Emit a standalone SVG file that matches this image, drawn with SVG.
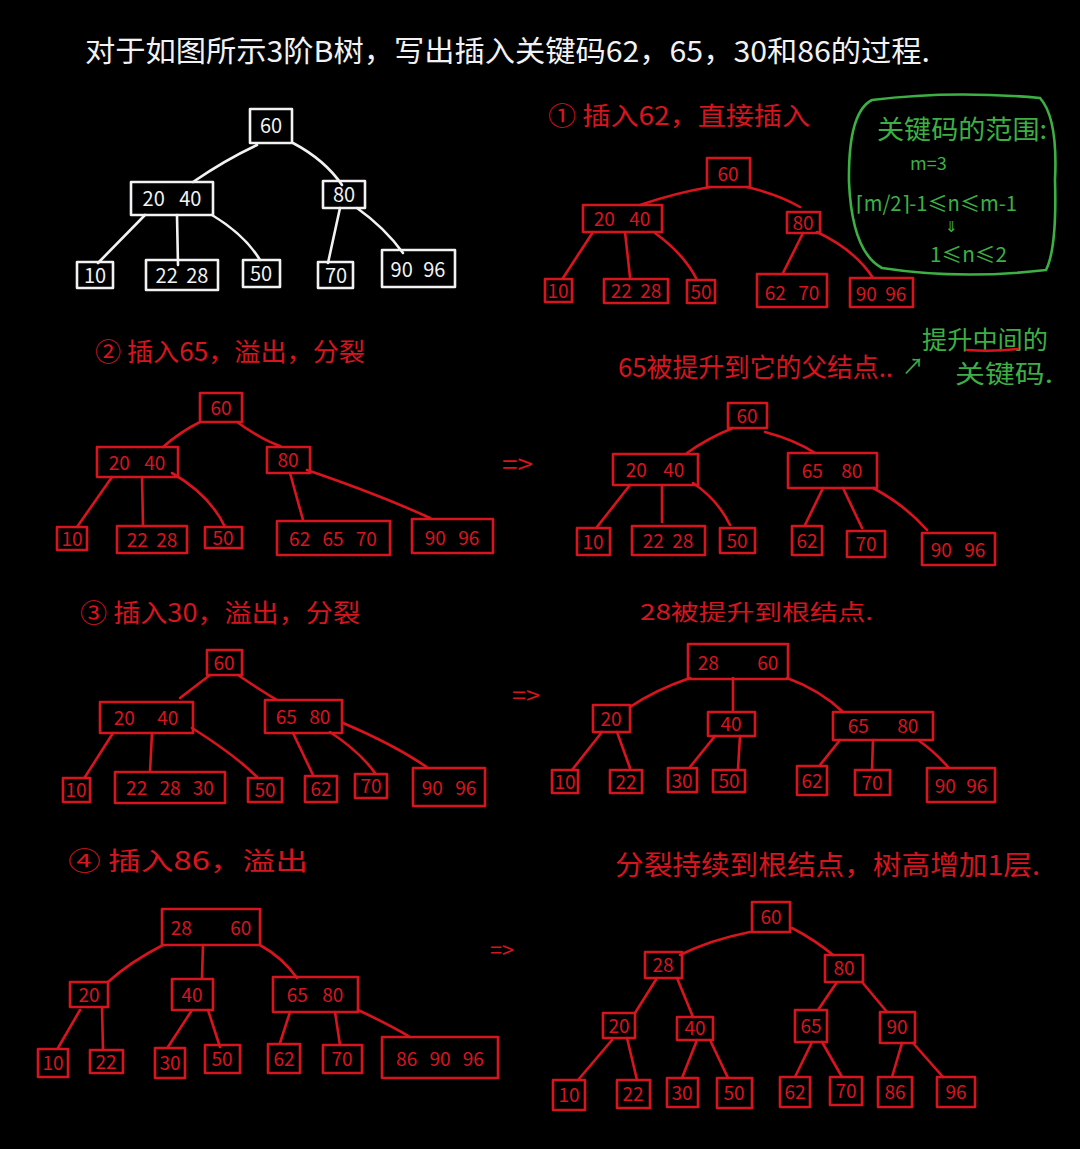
<svg xmlns="http://www.w3.org/2000/svg" width="1080" height="1149" viewBox="0 0 1080 1149">
  <style>
    text { font-family: "Noto Sans CJK SC", "Liberation Sans", sans-serif; }
    .bw rect { fill: none; stroke: #f2f2f2; stroke-width: 2.6; stroke-linejoin: round; }
    .br rect { fill: none; stroke: #d8141f; stroke-width: 2.6; stroke-linejoin: round; }
    .bw text { fill: #f2f2f2; font-size: 20px; text-anchor: middle; }
    .br text { fill: #d8141f; font-size: 19px; text-anchor: middle; }
    .ew path { fill: none; stroke: #f2f2f2; stroke-width: 2.6; stroke-linecap: round; }
    .er path { fill: none; stroke: #d8141f; stroke-width: 2.6; stroke-linecap: round; }
    .note-w { fill: #f2f2f2; }
    .note-r { fill: #d8141f; }
    .note-g { fill: #3cb043; }
  </style>
  <rect width="1080" height="1149" fill="#000"/>

  <!-- title -->
  <text class="note-w" x="85" y="62" font-size="29" textLength="845" lengthAdjust="spacingAndGlyphs">对于如图所示3阶B树，写出插入关键码62，65，30和86的过程.</text>

  <!-- ================= initial tree (white) ================= -->
  <g class="ew" id="edges-initial">
    <path d="M257 145 Q225 160 193 182"/>
    <path d="M293 143 Q325 160 342 185"/>
    <path d="M145 215 L98 263"/>
    <path d="M177 215 L178 265"/>
    <path d="M212 215 Q245 235 260 260"/>
    <path d="M340 208 L328 263"/>
    <path d="M357 208 Q385 228 403 253"/>
  </g>
  <g class="bw">
    <g id="w-60"><rect x="250" y="109" width="42" height="34"/><text x="271" y="133">60</text></g>
    <g id="w-20-40"><rect x="131" y="182" width="82" height="33"/><text x="172" y="206" word-spacing="10">20 40</text></g>
    <g id="w-80"><rect x="323" y="181" width="42" height="27"/><text x="344" y="202">80</text></g>
    <g id="w-10"><rect x="77" y="262" width="36" height="26"/><text x="95" y="283">10</text></g>
    <g id="w-22-28"><rect x="146" y="260" width="72" height="30"/><text x="182" y="283" word-spacing="4">22 28</text></g>
    <g id="w-50"><rect x="243" y="260" width="37" height="27"/><text x="261" y="281">50</text></g>
    <g id="w-70"><rect x="318" y="262" width="35" height="26"/><text x="336" y="283">70</text></g>
    <g id="w-90-96"><rect x="382" y="250" width="73" height="37"/><text x="418" y="277" word-spacing="6">90 96</text></g>
  </g>

  <!-- ================= step 1: insert 62 ================= -->
  <text class="note-r" x="548" y="125" font-size="25" textLength="262" lengthAdjust="spacingAndGlyphs">① 插入62，直接插入</text>
  <g class="er" id="edges-s1">
    <path d="M710 187 Q675 193 640 205"/>
    <path d="M747 187 Q780 195 800 207"/>
    <path d="M593 232 L563 278"/>
    <path d="M625 232 L630 277"/>
    <path d="M655 233 Q685 255 697 280"/>
    <path d="M803 233 L783 273"/>
    <path d="M817 232 Q855 250 873 278"/>
  </g>
  <g class="br">
    <g id="s1-60"><rect x="707" y="158" width="43" height="29"/><text x="728" y="181">60</text></g>
    <g id="s1-20-40"><rect x="583" y="205" width="79" height="27"/><text x="622" y="226" word-spacing="10">20 40</text></g>
    <g id="s1-80"><rect x="787" y="212" width="33" height="21"/><text x="803" y="230">80</text></g>
    <g id="s1-10"><rect x="545" y="279" width="27" height="23"/><text x="558" y="298">10</text></g>
    <g id="s1-22-28"><rect x="604" y="279" width="64" height="24"/><text x="636" y="298" word-spacing="4">22 28</text></g>
    <g id="s1-50"><rect x="687" y="280" width="28" height="23"/><text x="701" y="299">50</text></g>
    <g id="s1-62-70"><rect x="757" y="274" width="70" height="33"/><text x="792" y="300" word-spacing="8">62 70</text></g>
    <g id="s1-90-96"><rect x="850" y="278" width="63" height="29"/><text x="881" y="301" word-spacing="4">90 96</text></g>
  </g>

  <!-- key-count note -->
  <g id="range-note">
    <path d="M872 100 Q950 90 1040 98 Q1058 118 1055 180 Q1057 248 1046 270 Q960 280 882 268 Q852 252 849 182 Q848 112 872 100 Z" fill="none" stroke="#3cb043" stroke-width="2.6"/>
    <text class="note-g" x="877" y="139" font-size="26" textLength="170" lengthAdjust="spacingAndGlyphs">关键码的范围:</text>
    <text class="note-g" x="910" y="170" font-size="18">m=3</text>
    <text class="note-g" x="856" y="211" font-size="21" textLength="161" lengthAdjust="spacingAndGlyphs">⌈m/2⌉-1≤n≤m-1</text>
    <text class="note-g" x="945" y="232" font-size="15">⇓</text>
    <text class="note-g" x="930" y="262" font-size="21" textLength="77" lengthAdjust="spacingAndGlyphs">1≤n≤2</text>
  </g>

  <!-- ================= step 2: insert 65 ================= -->
  <text class="note-r" x="95" y="361" font-size="25" textLength="270" lengthAdjust="spacingAndGlyphs">② 插入65，溢出，分裂</text>
  <g class="er" id="edges-s2a">
    <path d="M200 422 Q180 432 163 447"/>
    <path d="M237 422 Q262 440 280 446"/>
    <path d="M112 477 L77 527"/>
    <path d="M142 477 L143 525"/>
    <path d="M172 473 Q210 495 225 527"/>
    <path d="M290 473 L303 520"/>
    <path d="M307 470 Q380 495 430 518"/>
  </g>
  <g class="br">
    <g id="s2a-60"><rect x="200" y="393" width="42" height="29"/><text x="221" y="415">60</text></g>
    <g id="s2a-20-40"><rect x="97" y="447" width="81" height="30"/><text x="137" y="470" word-spacing="10">20 40</text></g>
    <g id="s2a-80"><rect x="267" y="447" width="43" height="26"/><text x="288" y="467">80</text></g>
    <g id="s2a-10"><rect x="57" y="527" width="30" height="23"/><text x="72" y="546">10</text></g>
    <g id="s2a-22-28"><rect x="117" y="526" width="70" height="27"/><text x="152" y="547" word-spacing="4">22 28</text></g>
    <g id="s2a-50"><rect x="205" y="527" width="37" height="21"/><text x="223" y="545">50</text></g>
    <g id="s2a-62-65-70"><rect x="277" y="521" width="113" height="34"/><text x="333" y="546" word-spacing="8">62 65 70</text></g>
    <g id="s2a-90-96"><rect x="412" y="519" width="81" height="34"/><text x="452" y="545" word-spacing="8">90 96</text></g>
  </g>
  <text class="note-r" x="502" y="474" font-size="26" textLength="31" lengthAdjust="spacingAndGlyphs">=&gt;</text>

  <text class="note-r" x="618" y="377" font-size="26" textLength="275" lengthAdjust="spacingAndGlyphs">65被提升到它的父结点..</text>
  <text class="note-g" x="902" y="374" font-size="22">↗</text>
  <text class="note-g" x="922" y="349" font-size="25" textLength="126" lengthAdjust="spacingAndGlyphs">提升中间的</text>
  <path d="M967 350 Q992 352 1018 349" fill="none" stroke="#d8141f" stroke-width="2.4" stroke-linecap="round"/>
  <text class="note-g" x="955" y="383" font-size="25" textLength="98" lengthAdjust="spacingAndGlyphs">关键码.</text>

  <g class="er" id="edges-s2b">
    <path d="M733 428 Q708 438 687 453"/>
    <path d="M765 432 Q795 440 815 453"/>
    <path d="M630 485 L597 527"/>
    <path d="M662 485 L662 522"/>
    <path d="M693 483 Q718 500 730 525"/>
    <path d="M823 488 L805 525"/>
    <path d="M843 488 L862 528"/>
    <path d="M873 488 Q905 505 927 530"/>
  </g>
  <g class="br">
    <g id="s2b-60"><rect x="728" y="403" width="39" height="25"/><text x="747" y="423">60</text></g>
    <g id="s2b-20-40"><rect x="613" y="454" width="85" height="31"/><text x="655" y="477" word-spacing="12">20 40</text></g>
    <g id="s2b-65-80"><rect x="788" y="453" width="89" height="35"/><text x="832" y="478" word-spacing="14">65 80</text></g>
    <g id="s2b-10"><rect x="577" y="528" width="33" height="27"/><text x="593" y="549">10</text></g>
    <g id="s2b-22-28"><rect x="632" y="526" width="73" height="29"/><text x="668" y="548" word-spacing="4">22 28</text></g>
    <g id="s2b-50"><rect x="720" y="528" width="35" height="25"/><text x="737" y="548">50</text></g>
    <g id="s2b-62"><rect x="792" y="526" width="30" height="29"/><text x="807" y="548">62</text></g>
    <g id="s2b-70"><rect x="847" y="531" width="38" height="26"/><text x="866" y="551">70</text></g>
    <g id="s2b-90-96"><rect x="922" y="533" width="73" height="32"/><text x="958" y="557" word-spacing="8">90 96</text></g>
  </g>

  <!-- ================= step 3: insert 30 ================= -->
  <text class="note-r" x="80" y="622" font-size="25" textLength="280" lengthAdjust="spacingAndGlyphs">③ 插入30，溢出，分裂</text>
  <g class="er" id="edges-s3a">
    <path d="M210 675 L180 698"/>
    <path d="M238 675 Q260 690 277 700"/>
    <path d="M113 733 L85 777"/>
    <path d="M152 733 L150 772"/>
    <path d="M192 728 Q235 755 257 777"/>
    <path d="M293 733 L313 775"/>
    <path d="M330 732 Q360 752 375 773"/>
    <path d="M343 723 Q395 745 428 768"/>
  </g>
  <g class="br">
    <g id="s3a-60"><rect x="207" y="650" width="35" height="25"/><text x="224" y="670">60</text></g>
    <g id="s3a-20-40"><rect x="100" y="702" width="93" height="31"/><text x="146" y="725" word-spacing="18">20 40</text></g>
    <g id="s3a-65-80"><rect x="265" y="700" width="77" height="33"/><text x="303" y="724" word-spacing="8">65 80</text></g>
    <g id="s3a-10"><rect x="63" y="778" width="27" height="24"/><text x="76" y="797">10</text></g>
    <g id="s3a-22-28-30"><rect x="115" y="772" width="110" height="31"/><text x="170" y="795" word-spacing="8">22 28 30</text></g>
    <g id="s3a-50"><rect x="248" y="778" width="34" height="24"/><text x="265" y="797">50</text></g>
    <g id="s3a-62"><rect x="305" y="776" width="32" height="26"/><text x="321" y="796">62</text></g>
    <g id="s3a-70"><rect x="355" y="774" width="32" height="24"/><text x="371" y="793">70</text></g>
    <g id="s3a-90-96"><rect x="413" y="768" width="72" height="38"/><text x="449" y="795" word-spacing="8">90 96</text></g>
  </g>
  <text class="note-r" x="512" y="704" font-size="24" textLength="28" lengthAdjust="spacingAndGlyphs">=&gt;</text>

  <text class="note-r" x="640" y="620" font-size="22" textLength="233" lengthAdjust="spacingAndGlyphs">28被提升到根结点.</text>
  <g class="er" id="edges-s3b">
    <path d="M690 678 Q655 690 630 707"/>
    <path d="M733 678 L733 710"/>
    <path d="M787 678 Q820 690 843 712"/>
    <path d="M602 732 L572 770"/>
    <path d="M617 732 L630 768"/>
    <path d="M715 736 L690 767"/>
    <path d="M740 736 L738 769"/>
    <path d="M840 740 L820 765"/>
    <path d="M873 740 L872 770"/>
    <path d="M918 740 Q935 752 948 767"/>
  </g>
  <g class="br">
    <g id="s3b-28-60"><rect x="688" y="644" width="100" height="35"/><text x="738" y="670" word-spacing="34">28 60</text></g>
    <g id="s3b-20"><rect x="593" y="705" width="37" height="27"/><text x="611" y="726">20</text></g>
    <g id="s3b-40"><rect x="708" y="712" width="47" height="24"/><text x="731" y="731">40</text></g>
    <g id="s3b-65-80"><rect x="833" y="712" width="100" height="28"/><text x="883" y="733" word-spacing="24">65 80</text></g>
    <g id="s3b-10"><rect x="552" y="770" width="26" height="23"/><text x="565" y="789">10</text></g>
    <g id="s3b-22"><rect x="610" y="770" width="32" height="23"/><text x="626" y="789">22</text></g>
    <g id="s3b-30"><rect x="668" y="768" width="29" height="24"/><text x="682" y="788">30</text></g>
    <g id="s3b-50"><rect x="713" y="770" width="32" height="22"/><text x="729" y="788">50</text></g>
    <g id="s3b-62"><rect x="797" y="766" width="30" height="29"/><text x="812" y="788">62</text></g>
    <g id="s3b-70"><rect x="855" y="770" width="35" height="25"/><text x="872" y="790">70</text></g>
    <g id="s3b-90-96"><rect x="927" y="768" width="68" height="34"/><text x="961" y="793" word-spacing="6">90 96</text></g>
  </g>

  <!-- ================= step 4: insert 86 ================= -->
  <text class="note-r" x="68" y="870" font-size="25" textLength="240" lengthAdjust="spacingAndGlyphs">④ 插入86，溢出</text>
  <g class="er" id="edges-s4a">
    <path d="M163 945 Q130 962 108 982"/>
    <path d="M203 945 L202 978"/>
    <path d="M260 945 Q283 958 297 978"/>
    <path d="M80 1010 L58 1048"/>
    <path d="M102 1007 L103 1050"/>
    <path d="M192 1010 L168 1047"/>
    <path d="M208 1010 L220 1047"/>
    <path d="M290 1012 L280 1043"/>
    <path d="M335 1012 L340 1045"/>
    <path d="M358 1010 Q390 1025 410 1037"/>
  </g>
  <g class="br">
    <g id="s4a-28-60"><rect x="162" y="909" width="98" height="36"/><text x="211" y="935" word-spacing="34">28 60</text></g>
    <g id="s4a-20"><rect x="70" y="982" width="38" height="25"/><text x="89" y="1002">20</text></g>
    <g id="s4a-40"><rect x="172" y="979" width="41" height="31"/><text x="192" y="1002">40</text></g>
    <g id="s4a-65-80"><rect x="273" y="977" width="85" height="35"/><text x="315" y="1002" word-spacing="10">65 80</text></g>
    <g id="s4a-10"><rect x="38" y="1049" width="30" height="28"/><text x="53" y="1070">10</text></g>
    <g id="s4a-22"><rect x="90" y="1050" width="33" height="23"/><text x="106" y="1069">22</text></g>
    <g id="s4a-30"><rect x="155" y="1048" width="30" height="30"/><text x="170" y="1070">30</text></g>
    <g id="s4a-50"><rect x="205" y="1045" width="35" height="28"/><text x="222" y="1066">50</text></g>
    <g id="s4a-62"><rect x="268" y="1044" width="32" height="29"/><text x="284" y="1066">62</text></g>
    <g id="s4a-70"><rect x="323" y="1045" width="39" height="28"/><text x="342" y="1066">70</text></g>
    <g id="s4a-86-90-96"><rect x="382" y="1037" width="116" height="41"/><text x="440" y="1066" word-spacing="8">86 90 96</text></g>
  </g>
  <text class="note-r" x="490" y="958" font-size="22" textLength="24" lengthAdjust="spacingAndGlyphs">=&gt;</text>

  <text class="note-r" x="615" y="875" font-size="27" textLength="425" lengthAdjust="spacingAndGlyphs">分裂持续到根结点，树高增加1层.</text>
  <g class="er" id="edges-s4b">
    <path d="M750 932 Q710 940 680 955"/>
    <path d="M792 928 Q815 940 833 955"/>
    <path d="M657 978 L635 1013"/>
    <path d="M677 978 L693 1017"/>
    <path d="M837 982 L818 1010"/>
    <path d="M862 982 L887 1012"/>
    <path d="M612 1040 L578 1080"/>
    <path d="M627 1038 L637 1080"/>
    <path d="M697 1040 L682 1078"/>
    <path d="M710 1040 L728 1078"/>
    <path d="M812 1042 L795 1077"/>
    <path d="M822 1042 L842 1077"/>
    <path d="M902 1043 L892 1077"/>
    <path d="M913 1043 L943 1077"/>
  </g>
  <g class="br">
    <g id="s4b-60"><rect x="752" y="902" width="38" height="30"/><text x="771" y="924">60</text></g>
    <g id="s4b-28"><rect x="645" y="952" width="37" height="26"/><text x="663" y="972">28</text></g>
    <g id="s4b-80"><rect x="825" y="955" width="38" height="27"/><text x="844" y="975">80</text></g>
    <g id="s4b-20"><rect x="603" y="1013" width="32" height="25"/><text x="619" y="1033">20</text></g>
    <g id="s4b-40"><rect x="677" y="1017" width="36" height="23"/><text x="695" y="1035">40</text></g>
    <g id="s4b-65"><rect x="795" y="1010" width="32" height="32"/><text x="811" y="1033">65</text></g>
    <g id="s4b-90"><rect x="880" y="1012" width="35" height="31"/><text x="897" y="1034">90</text></g>
    <g id="s4b-10"><rect x="553" y="1080" width="32" height="30"/><text x="569" y="1102">10</text></g>
    <g id="s4b-22"><rect x="617" y="1080" width="33" height="28"/><text x="633" y="1101">22</text></g>
    <g id="s4b-30"><rect x="667" y="1078" width="31" height="29"/><text x="682" y="1100">30</text></g>
    <g id="s4b-50"><rect x="717" y="1078" width="35" height="30"/><text x="734" y="1100">50</text></g>
    <g id="s4b-62"><rect x="780" y="1077" width="30" height="30"/><text x="795" y="1099">62</text></g>
    <g id="s4b-70"><rect x="830" y="1077" width="32" height="28"/><text x="846" y="1098">70</text></g>
    <g id="s4b-86"><rect x="878" y="1077" width="34" height="30"/><text x="895" y="1099">86</text></g>
    <g id="s4b-96"><rect x="937" y="1077" width="38" height="30"/><text x="956" y="1099">96</text></g>
  </g>
</svg>
